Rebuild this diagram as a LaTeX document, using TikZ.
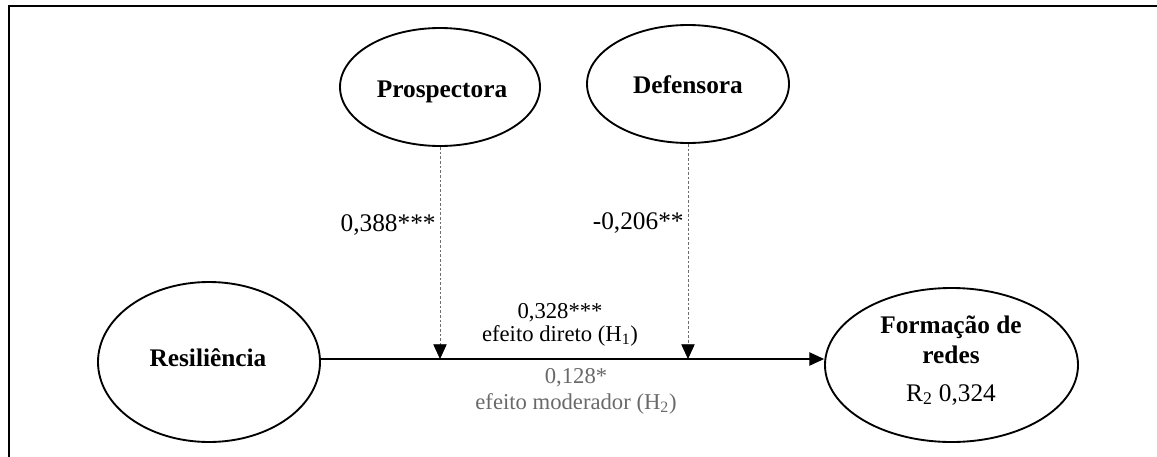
\documentclass[tikz,border=0pt]{standalone}
\usepackage{fontspec}
\setmainfont{Liberation Serif}
\usetikzlibrary{shapes.geometric, arrows.meta, positioning, calc}
\definecolor{modgray}{RGB}{105,105,105}
\definecolor{dashgray}{RGB}{110,110,110}

\begin{document}
\begin{tikzpicture}[x=0.75pt, y=-0.75pt,
  construct/.style={ellipse, draw, line width=1.4pt, inner sep=0pt},
  bigtext/.style={font=\fontsize{19}{22.5}\selectfont, inner sep=0pt, text=black},
  smalltext/.style={font=\fontsize{17}{18.75}\selectfont, inner sep=0pt, align=center},
  arrowtip/.style={-{Triangle[length=11pt, width=10pt, color=black]}},
  moderation/.style={arrowtip, dashgray, dash pattern=on 2pt off 1.5pt, line width=0.6pt}]
  \useasboundingbox (0,0) rectangle (1157,457);
  % frame
  \draw[line width=1.3pt] (9,457) -- (9,6) -- (1157,6);

  % constructs
  \node[construct, minimum width=150pt, minimum height=88.5pt] (pros) at (440,87) {};
  \node[bigtext, anchor=base] (pros-txt) at (442,97) {\textbf{Prospectora}};
  \node[construct, minimum width=151.5pt, minimum height=88.5pt] (def) at (688,84) {};
  \node[bigtext, anchor=base] (def-txt) at (688,93) {\textbf{Defensora}};
  \node[construct, minimum width=166.5pt, minimum height=120pt] (res) at (209,362) {};
  \node[bigtext, anchor=base] (res-txt) at (208,366) {\textbf{Resiliência}};
  \node[construct, minimum width=189.75pt, minimum height=115.5pt] (form) at (951.5,365) {};
  % multi-line: base is the last line
  \node[bigtext, anchor=base, align=center] (form-txt) at (951,401)
    {\textbf{Formação de}\\\textbf{redes}\\[6pt]R\textsubscript{2} 0,324};

  % main path
  \coordinate (res-out) at (res.east |- 0,359);
  \coordinate (form-in) at (form.west |- 0,359);
  \draw[line width=0.8pt, arrowtip] (res-out) -- (form-in);
  \node[smalltext, anchor=base] (direct) at (560,341) {0,328***\\[-1.5pt]efeito direto (H\textsubscript{1})};
  \node[smalltext, anchor=base, modgray] (moder) at (576,409) {0,128*\\[0.75pt]efeito moderador (H\textsubscript{2})};

  % moderators
  \coordinate (pros-in) at (pros.south |- res-out);
  \coordinate (def-in) at (def.south |- res-out);
  \draw[moderation] (pros.south) -- node[bigtext, pos=0.37, left=3pt] (pros-coef) {0,388***} (pros-in);
  \draw[moderation] (def.south) -- node[bigtext, pos=0.37, left=3pt] (def-coef) {-0,206**} (def-in);
\end{tikzpicture}
\end{document}
